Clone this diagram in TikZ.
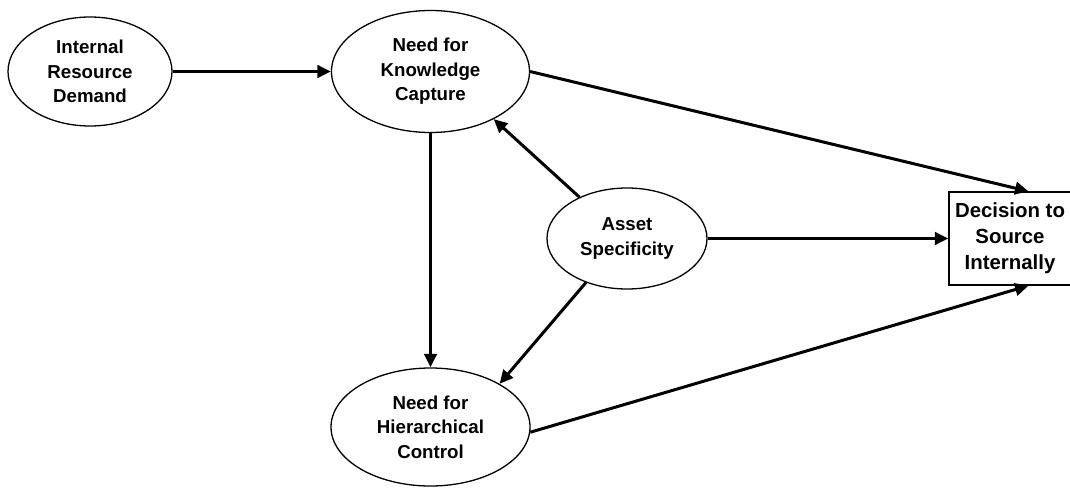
\documentclass[tikz,border=0pt]{standalone}
\usepackage{fontspec}
\setmainfont{Liberation Sans}
\usetikzlibrary{shapes.geometric,arrows.meta,calc}
\begin{document}
\begin{tikzpicture}[x=1pt,y=-1pt,
  construct/.style={ellipse,draw,line width=1.3pt,inner sep=0pt,align=center,
    font=\fontsize{18.7}{24.5}\selectfont\bfseries},
  outcome/.style={rectangle,draw,line width=1.3pt,inner sep=0pt,align=center,
    minimum width=122pt,minimum height=93pt,
    font=\fontsize{20.4}{26}\selectfont\bfseries},
  link/.style={line width=3pt,-{Triangle[length=13.5pt,width=12.5pt]}}]
\useasboundingbox (0,0) rectangle (1070,487);

% constructs
\node[construct,minimum width=164pt,minimum height=109pt] (ird) at (90,71.5)
  {Internal\\Resource\\Demand};
\node[construct,minimum width=198pt,minimum height=122pt] (nkc) at (430.5,71.5)
  {Need for\\Knowledge\\Capture};
\node[construct,minimum width=160pt,minimum height=101pt] (as) at (627,238.5)
  {Asset\\Specificity};
\node[construct,minimum width=199pt,minimum height=118pt] (nhc) at (430.5,427)
  {Need for\\Hierarchical\\Control};
\node[outcome] (dec) at (1010,238.5) {Decision to\\Source\\Internally};

% arrival points on the decision box
\coordinate (dectop) at ($(dec.north west)!0.65!(dec.north east)$);
\coordinate (decbot) at ($(dec.south west)!0.65!(dec.south east)$);

% paths
\draw[link] (ird.east) -- (nkc.west);
\draw[link] (nkc.south) -- (nhc.north);
\draw[link] (nkc.east) -- (dectop);
\draw[link] (as.139) -- (nkc.-37);
\draw[link] (as.east) -- (dec.west);
\draw[link] (as.227) -- (nhc.32);
\draw[link] (nhc.-3) -- (decbot);
\end{tikzpicture}
\end{document}
